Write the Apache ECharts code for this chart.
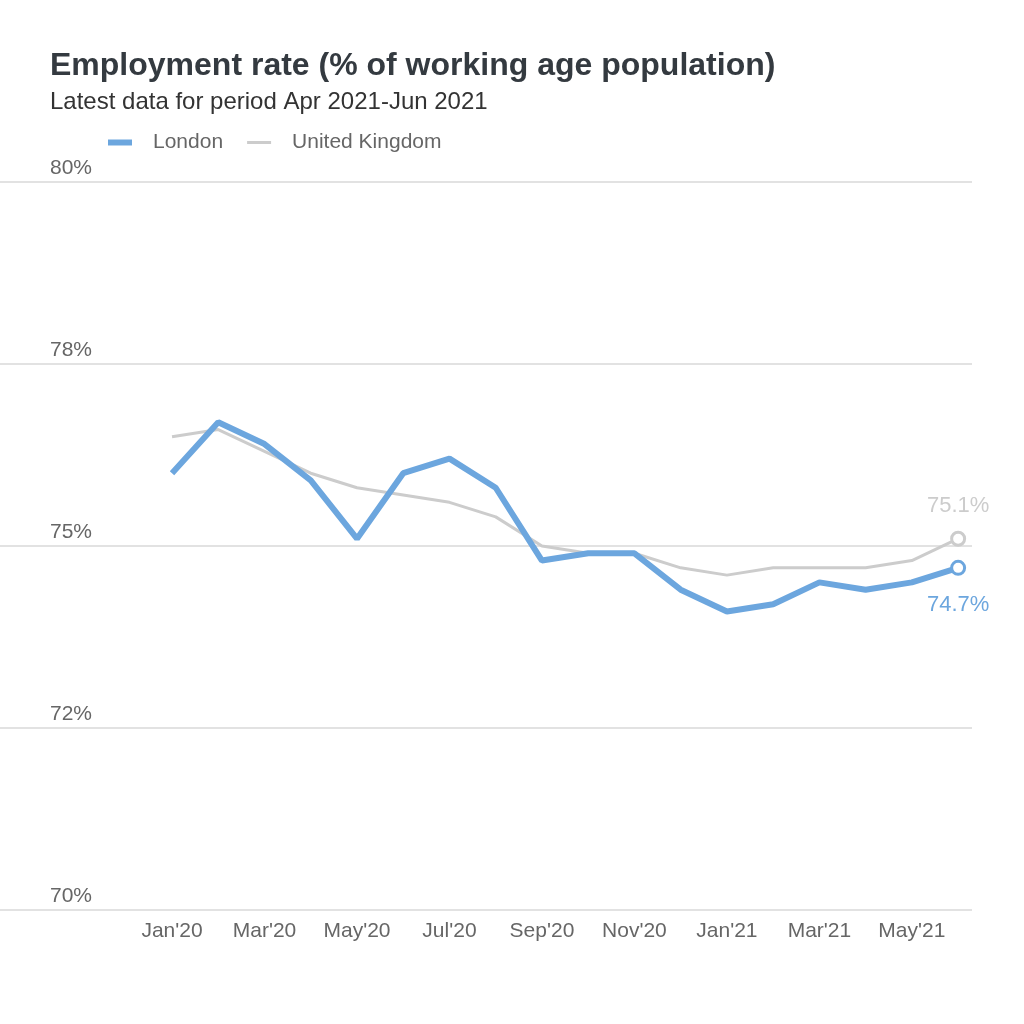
<!DOCTYPE html>
<html><head><meta charset="utf-8">
<script src="https://cdn.jsdelivr.net/npm/echarts@6/dist/echarts.min.js"></script>
<style>html,body{margin:0;padding:0;background:#fff}#c{width:1024px;height:1024px}</style>
</head><body><div id="c"></div>
<script>
const months = ["Jan'20","Feb'20","Mar'20","Apr'20","May'20","Jun'20","Jul'20","Aug'20","Sep'20","Oct'20","Nov'20","Dec'20","Jan'21","Feb'21","Mar'21","Apr'21","May'21","Jun'21"];
const london = [76.0,76.7,76.4,75.9,75.1,76.0,76.2,75.8,74.8,74.9,74.9,74.4,74.1,74.2,74.5,74.4,74.5,74.7];
const uk = [76.5,76.6,76.3,76.0,75.8,75.7,75.6,75.4,75.0,74.9,74.9,74.7,74.6,74.7,74.7,74.7,74.8,75.1];
const yTicks = [70,72.5,75,77.5,80];
const yTickLabels = ['70%','72%','75%','78%','80%'];
const xLabelIdx = [0,2,4,6,8,10,12,14,16];

const FONT = 'Arial, Liberation Sans, sans-serif';
const BLUE = '#6ca6de', GREY = '#cccccc';

function build(vals, color, pos, dist) {
  return vals.map((v, i) => {
    if (i === vals.length - 1) {
      return {
        value: [i, v], symbol: 'circle', symbolSize: 13,
        itemStyle: {color: '#fff', borderColor: color, borderWidth: 3},
        label: {show: true, position: pos, distance: dist, color: color, fontSize: 22, fontFamily: FONT,
          formatter: v.toFixed(1) + '%'}
      };
    }
    return {value: [i, v], symbol: 'none'};
  });
}

const chart = echarts.init(document.getElementById('c'));
chart.setOption({
  animation: false,
  title: {
    text: 'Employment rate (% of working age population)',
    subtext: 'Latest data for period Apr 2021-Jun 2021',
    left: 45, top: 45, itemGap: 8,
    textStyle: {fontFamily: FONT, fontSize: 32, fontWeight: 'bold', color: '#343a40'},
    subtextStyle: {fontFamily: FONT, fontSize: 24, color: '#333'}
  },
  legend: {
    left: 103, top: 127, itemWidth: 24, itemHeight: 6, itemGap: 24,
    textStyle: {fontFamily: FONT, fontSize: 21, color: '#666', padding: [0,0,0,16]},
    data: [
      {name: 'London', icon: 'rect', itemStyle: {color: BLUE}},
      {name: 'United Kingdom', icon: 'path://M0,0 M0,1.5H24V4.5H0Z M24,6', itemStyle: {color: GREY}}
    ]
  },
  grid: {left: 0, right: 52, top: 182, bottom: 114},
  xAxis: {
    type: 'value', min: -3.72, max: 17.3,
    axisLine: {show: false}, axisTick: {show: false}, splitLine: {show: false},
    axisLabel: {customValues: xLabelIdx, formatter: v => months[Math.round(v)], color: '#666', fontSize: 21, fontFamily: FONT, margin: 11}
  },
  yAxis: {
    type: 'value', min: 70, max: 80, interval: 2.5,
    axisLine: {show: false}, axisTick: {show: false},
    splitLine: {lineStyle: {color: '#d9d9d9', width: 1.5}},
    axisLabel: {inside: true, margin: 50, verticalAlign: 'bottom', padding: [0,0,3,0], align: 'left',
      color: '#666', fontSize: 21, fontFamily: FONT,
      formatter: v => yTickLabels[yTicks.indexOf(v)]}
  },
  series: [
    {name: 'United Kingdom', type: 'line', data: build(uk, GREY, 'top', 14), z: 2,
      lineStyle: {color: GREY, width: 3}, itemStyle: {color: GREY}},
    {name: 'London', type: 'line', data: build(london, BLUE, 'bottom', 18), z: 3,
      lineStyle: {color: BLUE, width: 6}, itemStyle: {color: BLUE}}
  ]
});
</script></body></html>
